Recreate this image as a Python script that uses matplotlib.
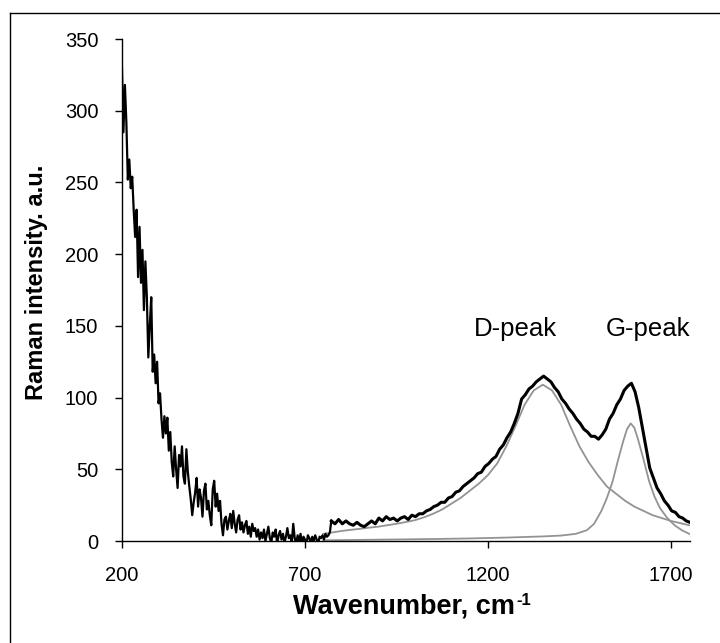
import numpy as np
import matplotlib.pyplot as plt
from matplotlib.lines import Line2D

plt.rcParams['font.family'] = ['Liberation Sans', 'DejaVu Sans']

# measured spectrum, low wavenumber part (very noisy), every 4 cm-1 from 200
wn_low = np.arange(200, 769, 4)
raman_low = [
    330, 285, 318, 292, 252, 266, 246, 254, 231, 212,
    231, 184, 219, 180, 203, 161, 195, 170, 128, 150,
    170, 118, 130, 110, 125, 96, 103, 85, 72, 87,
    75, 86, 63, 76, 55, 45, 66, 50, 37, 60,
    52, 66, 45, 40, 64, 48, 38, 29, 18, 27,
    34, 44, 24, 36, 30, 17, 35, 40, 22, 28,
    18, 11, 36, 42, 24, 33, 21, 28, 12, 4,
    15, 17, 8, 14, 19, 9, 21, 12, 6, 15,
    18, 8, 13, 6, 11, 14, 5, 10, 3, 12,
    7, 9, 3, 8, 1, 6, 2, 8, 0, 5,
    10, 2, -1, 6, 3, 8, -2, 4, 7, 1,
    5, -1, 3, 9, 2, 4, -1, 12, 2, -2,
    4, 0, 5, -3, 3, 1, -2, 4, 2, -1,
    3, 0, 4, 1, -2, 3, 2, 4, 1, 5,
    3, 4, 6,
]

# measured spectrum, D/G band part, every 10 cm-1 from 772
wn_high = np.arange(772, 1753, 10)
raman_high = [
    14, 12, 15, 12, 14, 12, 11, 13, 11, 10,
    12, 14, 12, 16, 14, 17, 15, 16, 14, 16,
    17, 15, 18, 17, 19, 19, 21, 22, 24, 25,
    27, 27, 30, 31, 34, 35, 38, 40, 42, 44,
    47, 48, 52, 54, 57, 59, 64, 67, 72, 76,
    82, 89, 99, 102, 106, 108, 111, 113, 115, 113,
    111, 107, 104, 99, 96, 92, 89, 85, 82, 78,
    76, 73, 73, 71, 74, 78, 85, 89, 95, 99,
    105, 108, 110, 104, 93, 79, 65, 51, 44, 37,
    33, 28, 25, 21, 20, 17, 16, 14, 13,
]

# fitted D band
wn_d = np.arange(750, 1751, 25)
fit_d = [
    5, 6, 7, 7.8, 8.5, 9.3, 10, 11, 12, 13.2,
    14.5, 16.5, 19, 22, 26, 30, 35, 40, 46, 54,
    66, 80, 95, 105, 109, 105, 95, 80, 66, 55,
    46, 38, 33, 28, 24, 21, 18, 16, 14, 12.5,
    11,
]

# fitted G band
wn_g = [750, 850, 950, 1050, 1150, 1250, 1300, 1350, 1400, 1440,
        1470, 1490, 1510, 1525, 1540, 1555, 1570, 1580, 1590, 1600,
        1610, 1625, 1640, 1655, 1670, 1690, 1710, 1730, 1750]
fit_g = [0.5, 0.8, 1.1, 1.4, 1.8, 2.4, 2.8, 3.2, 3.8, 5.0,
         7.5, 12, 21, 30, 41, 56, 70, 78, 82, 79,
         71, 57, 42, 31, 23, 16, 11, 7.5, 5]

W, H = 720, 643
fig = plt.figure(figsize=(W / 100, H / 100), dpi=100)
ax = fig.add_axes([0.1694, 0.1586, 0.7889, 0.7807])

ax.plot(wn_d, fit_d, color='#939393', lw=1.3)
ax.plot(wn_g, fit_g, color='#939393', lw=1.3)
ax.plot(np.append(wn_low, wn_high[0]), raman_low + [raman_high[0]], color='black', lw=1.6)
ax.plot(wn_high, raman_high, color='black', lw=2.2)

ax.set_xlim(200, 1752)
ax.set_ylim(0, 350)
ax.set_xticks([200, 700, 1200, 1700])
ax.set_yticks(range(0, 351, 50))

for s in ['top', 'right']:
    ax.spines[s].set_visible(False)
for s in ['left', 'bottom']:
    ax.spines[s].set_linewidth(1.0)

ax.tick_params(axis='both', direction='out', length=5, width=1, labelsize=14.5)
ax.tick_params(axis='y', pad=12)
ax.tick_params(axis='x', pad=13)

ax.set_ylabel('Raman intensity. a.u.', fontsize=17, fontweight='bold')
ax.yaxis.set_label_coords(-0.130, 0.515)

# x label with a hyphen superscript, placed in pixels
fig.text(515 / W, 1 - 614 / H, 'Wavenumber, cm', fontsize=19.5, fontweight='bold',
         ha='right', va='baseline')
fig.text(516 / W, 1 - 593 / H, '-1', fontsize=12, fontweight='bold',
         ha='left', va='top')

ax.text(1274, 148, 'D-peak', fontsize=18.5, ha='center', va='center')
ax.text(1636, 148, 'G-peak', fontsize=18.5, ha='center', va='center')

# outer frame (only left and top edges fall inside the picture)
fig.add_artist(Line2D([10 / W, 10 / W], [0, 1 - 13 / H], color='black', lw=1,
                      transform=fig.transFigure))
fig.add_artist(Line2D([10 / W, 1], [1 - 13 / H, 1 - 13 / H], color='black', lw=1,
                      transform=fig.transFigure))

fig.savefig('out.png', dpi=100)
